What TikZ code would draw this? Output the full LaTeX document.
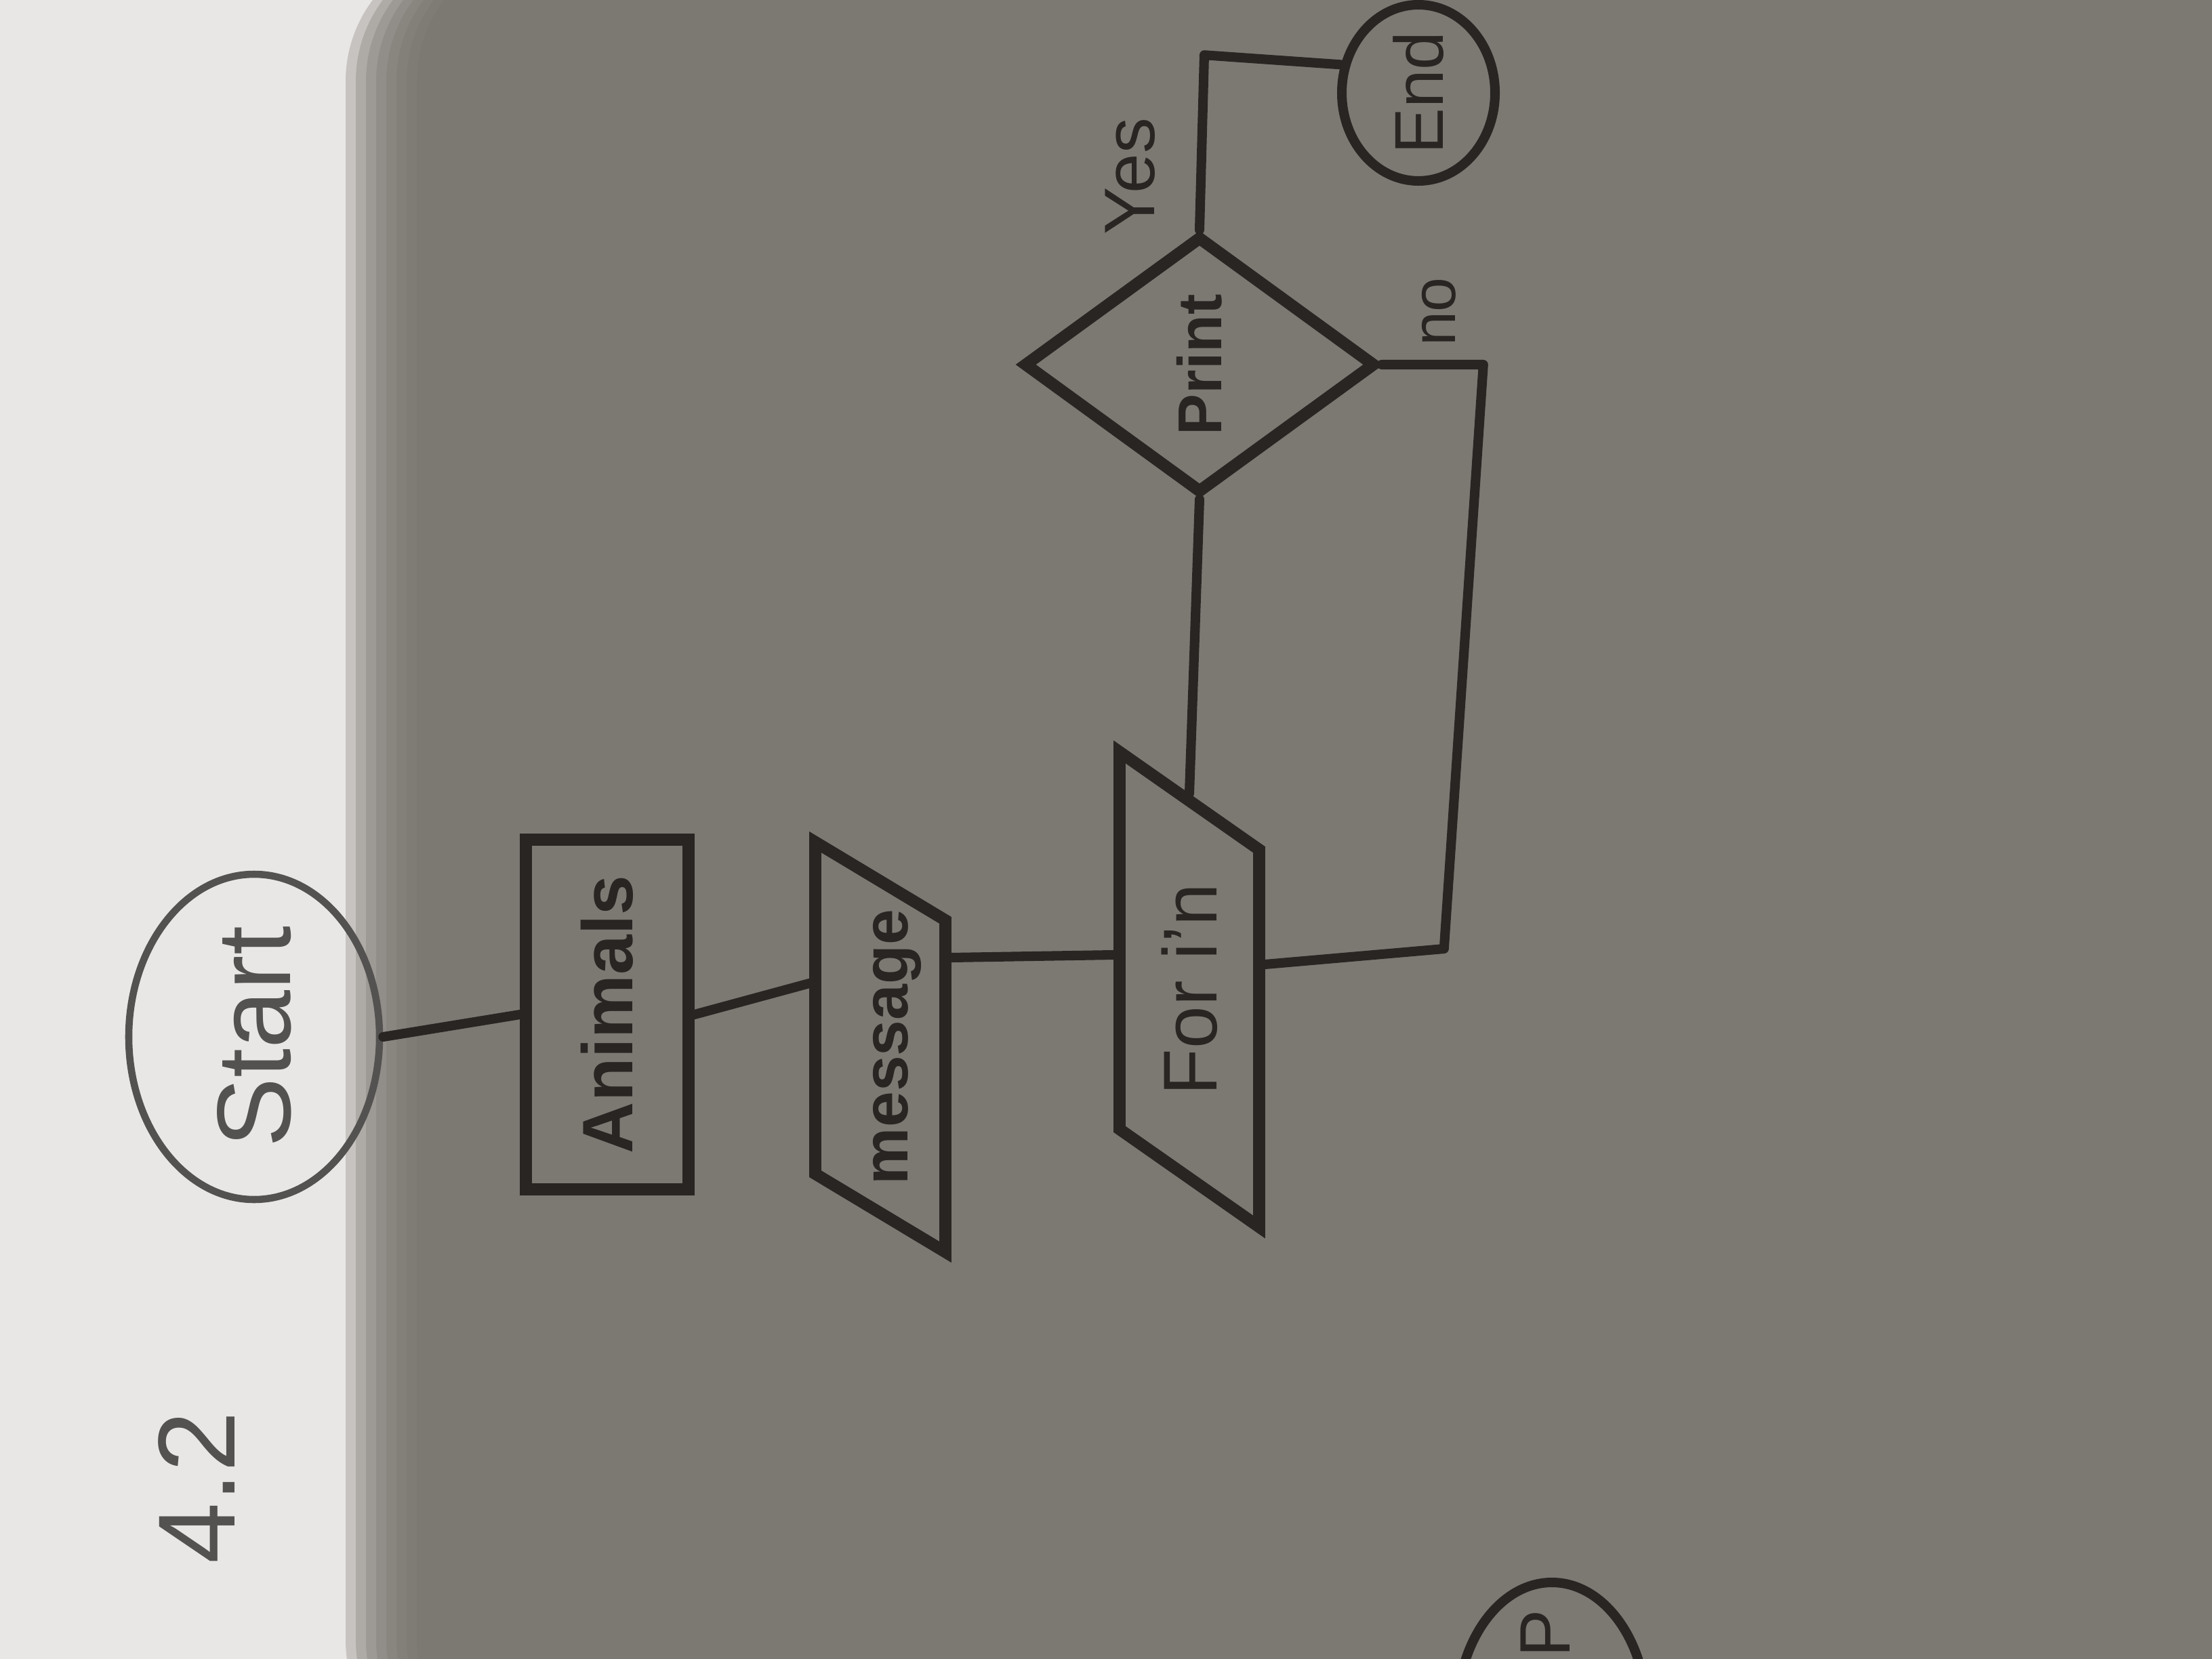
\documentclass[tikz,border=0pt]{standalone}
\usepackage{fontspec}
\setmainfont{Liberation Sans}
\usetikzlibrary{positioning, calc}
\usetikzlibrary{shapes.geometric}
\definecolor{paper_white}{RGB}{233,231,229}
\definecolor{shadow_grey}{RGB}{119,115,109}
\definecolor{pen_ink}{RGB}{40,37,35}
\definecolor{pencil_grey}{RGB}{84,82,81}

\begin{document}
\begin{tikzpicture}[x=1cm, y=-1cm,
    flowbox/.style={draw=pen_ink, line width=5pt, rotate=90, inner sep=0pt, text=pen_ink},
    flowline/.style={draw=pen_ink, line width=4pt, line cap=round, line join=round},
    handtext/.style={rotate=90, inner sep=0pt, text=pen_ink}]

    % --- Begin Paper ---
    \path[use as bounding box] (0,0) rectangle (32.64,24.48);
    \clip (0,0) rectangle (32.64,24.48);
    \fill[paper_white] (0,0) rectangle (32.64,24.48);
    % Soft edge of the shadow, built up in thin layers.
    \foreach \k in {0,...,7}
        \fill[shadow_grey, opacity=0.3, rounded corners=2cm] (5.1+0.15*\k,-0.8) rectangle (40,26.2);
    % --- End Paper ---

    % --- Begin Start Node ---
    \node [draw=pencil_grey, line width=3pt, ellipse, rotate=90, minimum width=4.8cm, minimum height=3.7cm, inner sep=0pt, text=pencil_grey, font=\fontsize{44}{44}\selectfont] (start) at (3.75,15.30) {Start};
    % --- End Start Node ---

    % --- Begin Process Nodes ---
    \node [flowbox, rectangle, minimum width=5.16cm, minimum height=2.40cm, font=\bfseries\fontsize{30}{30}\selectfont] (animals) at (8.96,14.97) {Animals};
    % text height + text depth give the full height, so the side angles hold;
    % the zero-width box keeps the text from widening the shape.
    \node [flowbox, trapezium, trapezium left angle=59, trapezium right angle=121, trapezium stretches body=true, text height=1.36cm, text depth=0.56cm, minimum width=6.05cm, font=\bfseries\fontsize{27}{27}\selectfont] (message) at (12.99,15.45) {\makebox[0pt]{message}};
    \node [flowbox, trapezium, trapezium left angle=55, trapezium right angle=125, trapezium stretches body=true, text height=1.43cm, text depth=0.63cm, minimum width=7.01cm, font=\fontsize{32}{32}\selectfont] (forbox) at (17.55,14.60) {\makebox[0pt]{For i'n}};
    % --- End Process Nodes ---

    % --- Begin Decision Node ---
    \node [flowbox, diamond, minimum width=3.80cm, minimum height=5.20cm, font=\bfseries\fontsize{26}{26}\selectfont] (cond) at (17.70,5.38) {Print};
    \node [handtext, font=\fontsize{30}{30}\selectfont] (yeslabel) at (16.68,2.60) {Yes};
    \node [handtext, font=\fontsize{26}{26}\selectfont] (nolabel) at (21.23,4.60) {no};
    % --- End Decision Node ---

    % --- Begin End Node ---
    \node [flowbox, ellipse, line width=4pt, minimum width=2.60cm, minimum height=2.26cm, font=\fontsize{29}{29}\selectfont] (endnode) at (20.93,1.37) {End};
    % --- End End Node ---

    % Exercise number and the next chart, cut off by the photo.
    \node [handtext, text=pencil_grey, font=\fontsize{46}{46}\selectfont] (tasknum) at (2.90,21.95) {4.2};
    \node [draw=pen_ink, line width=4pt, ellipse, rotate=90, minimum width=3.9cm, minimum height=2.8cm] (nextnode) at (22.90,25.30) {};
    \node [handtext, font=\fontsize{30}{30}\selectfont] (nexttext) at (22.80,24.10) {P};

    % Connect the nodes.
    \draw[flowline] (start.south) -- (animals.north);
    \draw[flowline] (animals.south) -- ($(message.north)+(0,-0.94)$);
    \draw[flowline] ($(message.south)+(0,-1.32)$) -- ($(forbox.north)+(0,-0.51)$);
    \draw[flowline] (forbox.east) -- (cond.west);
    \draw[flowline] (cond.east) -- ++(0.07,-2.58) -- (endnode.70);
    \draw[flowline] (cond.south) -- ++(1.5,0) -- ++(-0.58,8.62) -- ($(forbox.south)+(0,-0.37)$);

\end{tikzpicture}
\end{document}
